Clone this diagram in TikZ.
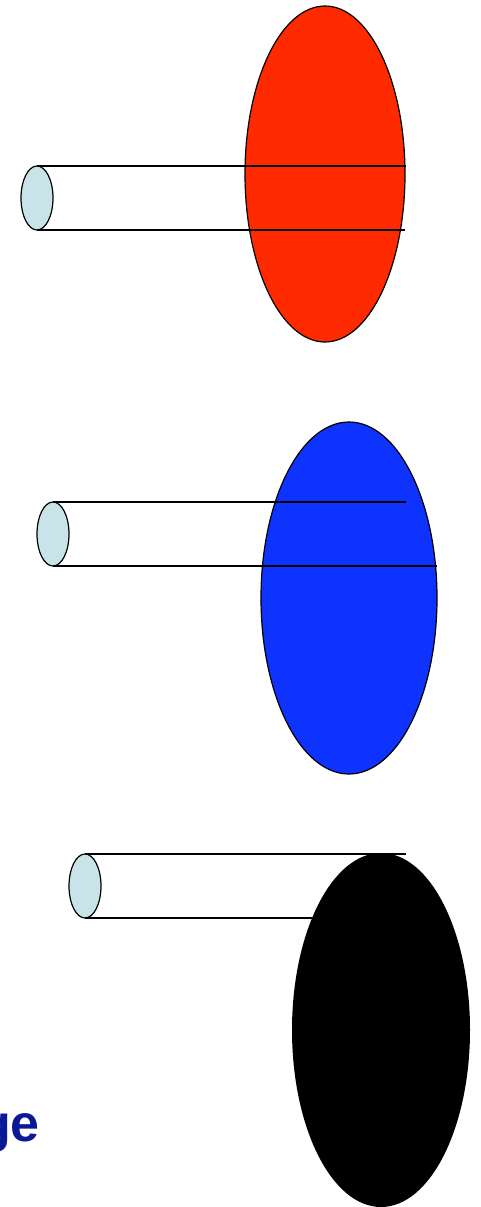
\documentclass[tikz,border=0pt]{standalone}
\usepackage{fontspec}
\setsansfont{Liberation Sans}
\definecolor{redfill}{HTML}{FF2A00}
\definecolor{bluefill}{HTML}{0F33FF}
\definecolor{capfill}{HTML}{C8E4E8}
\definecolor{labelblue}{HTML}{0A1A96}
\tikzset{
  outline/.style={draw=black,line width=1.2pt},
  tubeline/.style={black,line width=1.2pt},
  tubecap/.style={outline,fill=capfill},
}

\begin{document}
\begin{tikzpicture}[x=1pt,y=-1pt]
  \useasboundingbox (0,0) rectangle (481,1207);

  % red disc, tube passing through it
  \fill[redfill,outline] (325,174) ellipse (80 and 168);
  \draw[tubeline] (37,166) -- (406,166);
  \draw[tubeline] (37,230) -- (405,230);
  \filldraw[tubecap] (37,198) ellipse (16 and 32);

  % blue disc, tube lower
  \fill[bluefill,outline] (349,598) ellipse (88 and 176);
  \draw[tubeline] (53,502) -- (406,502);
  \draw[tubeline] (53,566) -- (437,566);
  \filldraw[tubecap] (53,534) ellipse (16 and 32);

  % black disc, tube hidden behind it
  \draw[tubeline] (85,854) -- (406,854);
  \draw[tubeline] (85,918) -- (360,918);
  \fill[black] (381,1030) ellipse (89 and 177);
  \filldraw[tubecap] (85,886) ellipse (16 and 32);

  \node[font=\sffamily\bfseries\fontsize{52}{60}\selectfont,text=labelblue,
        anchor=base east,inner sep=0pt] (lbl) at (40,1141) {ge};
\end{tikzpicture}
\end{document}
